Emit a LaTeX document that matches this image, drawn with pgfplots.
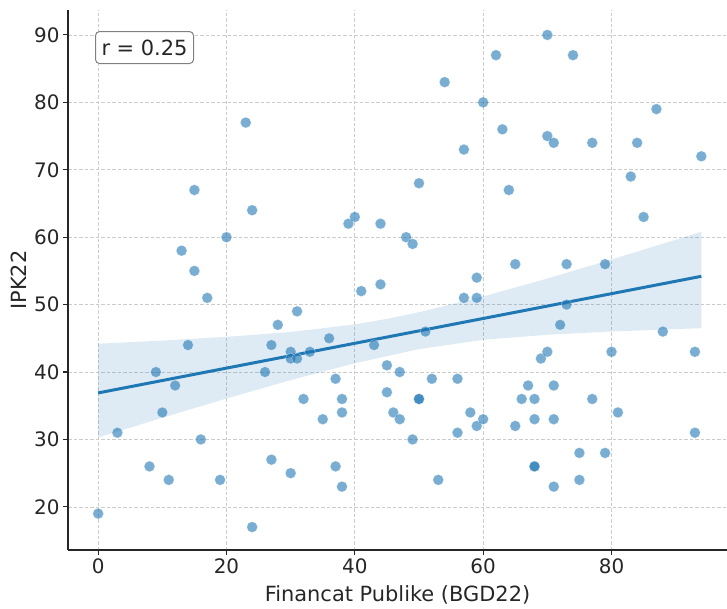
\documentclass[border=0pt]{standalone}
\usepackage{pgfplots}
\pgfplotsset{compat=1.18}
\usepackage{fontspec}
\setmainfont{DejaVu Sans}
\definecolor{tabblue}{HTML}{1F77B4}
\definecolor{txt}{HTML}{262626}
\definecolor{gridc}{HTML}{CCCCCC}
\begin{document}
\begin{tikzpicture}
\begin{axis}[
  width=659bp, height=540bp, scale only axis,
  xmin=-4.7, xmax=98.0, ymin=13.6, ymax=93.7,
  axis lines=left,
  axis line style={-, line width=1.25bp, color=txt},
  tick align=outside,
  major tick length=5bp,
  tick style={line width=1.1bp, color=txt},
  xtick={0,20,40,60,80}, ytick={20,30,40,50,60,70,80,90},
  grid=major,
  grid style={gridc, line width=0.7bp, dash pattern=on 3.5bp off 2bp},
  /pgf/number format/assume math mode=true,
  tick label style={font=\fontsize{20}{23}\selectfont, color=txt},
  label style={font=\fontsize{21}{24}\selectfont, color=txt},
  xlabel={Financat Publike (BGD22)},
  ylabel={IPK22},
  xlabel style={at={(axis description cs:0.5,-0.0833)}, anchor=center},
  ylabel style={at={(axis description cs:-0.0744,0.5)}, anchor=center},
  clip=false,
]
% confidence band
\addplot[draw=none, fill=tabblue, fill opacity=0.15] coordinates {
  (0,44.2) (10,44.66) (20,45.22) (30,45.94) (40,47.06) (45,47.88) (50,48.87)
  (60,51.21) (70,53.87) (80,56.70) (90,59.61) (94,60.8)
  (94,46.5) (90,46.37) (80,46.01) (70,45.53) (60,44.78) (50,43.4) (40,41.30)
  (30,38.80) (20,36.07) (10,33.22) (0,30.3)
} -- cycle;
% scatter
\addplot[color=tabblue, only marks, mark=*, mark size=5.4bp,
  mark options={draw=white, line width=0.4bp, draw opacity=0.5, fill=tabblue, fill opacity=0.6}] table {
x y
0 19
3 31
8 26
9 40
10 34
11 24
12 38
13 58
14 44
15 67
15 55
16 30
17 51
19 24
20 60
23 77
24 64
24 17
26 40
27 44
27 27
28 47
30 43
30 42
30 25
31 49
31 42
32 36
33 43
35 33
36 45
37 39
37 26
38 36
38 34
38 23
39 62
40 63
41 52
43 44
44 62
44 53
45 41
45 37
46 34
47 40
47 33
48 60
49 59
49 30
50 68
50 36
50 36
51 46
52 39
53 24
54 83
56 39
56 31
57 73
57 51
58 34
59 54
59 51
59 32
60 80
60 33
62 87
63 76
64 67
65 56
65 32
66 36
67 38
68 36
68 33
68 26
68 26
69 42
70 90
70 75
70 43
71 74
71 38
71 33
71 23
72 47
73 56
73 50
74 87
75 28
75 24
77 74
77 36
79 56
79 28
80 43
81 34
83 69
84 74
85 63
87 79
88 46
93 43
93 31
94 72
};
% regression line
\addplot[color=tabblue, line width=3bp] coordinates {(0,36.9) (94,54.2)};
\node[draw=gray, line width=1bp, rounded corners=4bp, fill=white,
  anchor=north west, minimum width=98bp, minimum height=32bp, inner sep=0pt,
  font=\fontsize{21}{24}\selectfont, text=txt]
  at (rel axis cs:0.041,0.961) {r = 0.25};
\end{axis}
\pgfresetboundingbox
\path ([xshift=-68bp,yshift=-58bp]current axis.south west) rectangle ([yshift=10bp]current axis.north east);
\end{tikzpicture}
\end{document}
